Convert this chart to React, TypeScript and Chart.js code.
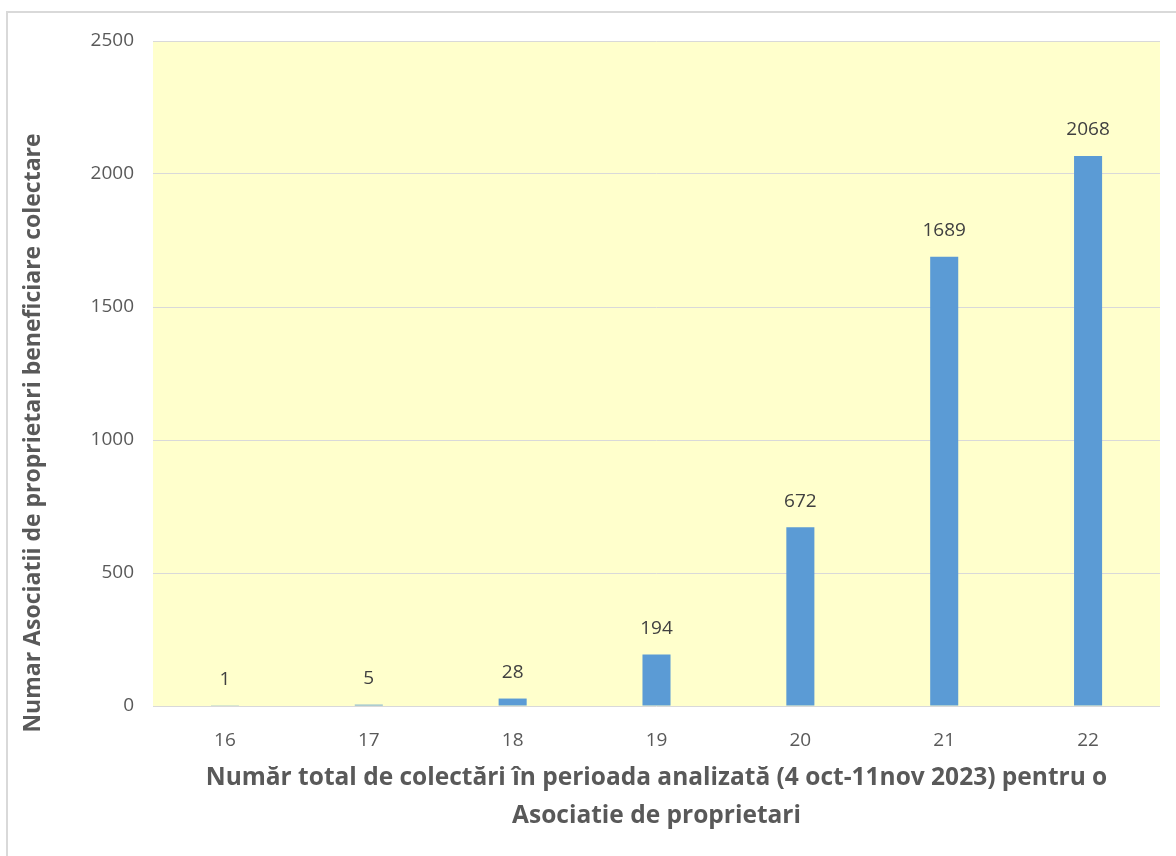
import React, { useEffect, useRef } from "react";
import { Chart, registerables } from "chart.js";

Chart.register(...registerables);

const categories = ["16", "17", "18", "19", "20", "21", "22"];
const counts = [1, 5, 28, 194, 672, 1689, 2068];
const yTickValues = [0, 500, 1000, 1500, 2000, 2500];
const xTitleLines = [
  "Număr total de colectări în perioada analizată (4 oct-11nov 2023) pentru o",
  "Asociatie de proprietari",
];
const yTitleText = "Numar Asociatii de proprietari beneficiare colectare";

const FONT = "'Open Sans', sans-serif";
const TEXT_GRAY = "#595959";
const LABEL_DARK = "#404040";
const GRID = "#D9D9D9";
const PLOT_BG = "#FFFFCC";
const BAR = "#5B9BD5";

export default function App() {
  const ref = useRef<HTMLCanvasElement>(null);

  useEffect(() => {
    const canvas = ref.current;
    if (!canvas) return;

    const plotBg = {
      id: "plotBg",
      beforeDraw(chart: any) {
        const { ctx, chartArea } = chart;
        ctx.save();
        ctx.fillStyle = PLOT_BG;
        ctx.fillRect(chartArea.left, chartArea.top, chartArea.right - chartArea.left, chartArea.bottom - chartArea.top);
        ctx.restore();
      },
    };

    const frame = {
      id: "frame",
      afterDraw(chart: any) {
        const { ctx } = chart;
        ctx.save();
        ctx.strokeStyle = GRID;
        ctx.lineWidth = 2;
        ctx.strokeRect(7, 12, 3000, 3000);
        ctx.restore();
      },
    };

    const valueLabels = {
      id: "valueLabels",
      afterDatasetsDraw(chart: any) {
        const { ctx } = chart;
        const meta = chart.getDatasetMeta(0);
        ctx.save();
        ctx.font = `19px ${FONT}`;
        ctx.fillStyle = LABEL_DARK;
        ctx.textAlign = "center";
        ctx.textBaseline = "middle";
        meta.data.forEach((bar: any, i: number) => {
          ctx.fillText(String(counts[i]), bar.x, bar.y - 26);
        });
        ctx.restore();
      },
    };

    const yTitle = {
      id: "yTitle",
      afterDraw(chart: any) {
        const { ctx } = chart;
        ctx.save();
        ctx.translate(33, 433);
        ctx.rotate(-Math.PI / 2);
        ctx.font = `bold 23px ${FONT}`;
        ctx.fillStyle = TEXT_GRAY;
        ctx.textAlign = "center";
        ctx.textBaseline = "middle";
        ctx.fillText(yTitleText, 0, 0);
        ctx.restore();
      },
    };

    const chart = new Chart(canvas, {
      type: "bar",
      data: {
        labels: categories,
        datasets: [
          {
            data: counts,
            backgroundColor: BAR,
            borderWidth: 0,
            barPercentage: 0.195,
            categoryPercentage: 1,
          },
        ],
      },
      options: {
        animation: false,
        responsive: false,
        devicePixelRatio: 1,
        layout: { padding: { top: 41, right: 16, left: 0, bottom: 0 } },
        plugins: {
          legend: { display: false },
          tooltip: { enabled: false },
          title: { display: false },
        },
        scales: {
          x: {
            afterFit(scale: any) {
              scale.height = 150;
            },
            grid: { display: false, drawTicks: false },
            border: { display: false },
            ticks: {
              color: TEXT_GRAY,
              font: { family: FONT, size: 19 },
              padding: 23,
            },
            title: {
              display: true,
              text: xTitleLines,
              color: TEXT_GRAY,
              font: { family: FONT, size: 24.5, weight: "bold", lineHeight: 38 / 24.5 },
              padding: { top: 0, bottom: 21 },
            },
          },
          y: {
            min: 0,
            max: 2500,
            afterFit(scale: any) {
              scale.width = 153;
            },
            afterBuildTicks(scale: any) {
              scale.ticks = yTickValues.map((v) => ({ value: v }));
            },
            grid: { color: GRID, lineWidth: 1, drawTicks: false },
            border: { display: false },
            ticks: {
              color: TEXT_GRAY,
              font: { family: FONT, size: 19 },
              padding: 19,
              callback: (v: any) => String(v),
            },
          },
        },
      },
      plugins: [plotBg, valueLabels, yTitle, frame],
    } as any);

    return () => chart.destroy();
  }, []);

  return (
    <div style={{ position: "fixed", left: 0, top: 0, width: 1176, height: 856, background: "#fff" }}>
      <canvas ref={ref} width={1176} height={856} style={{ display: "block" }} />
    </div>
  );
}
